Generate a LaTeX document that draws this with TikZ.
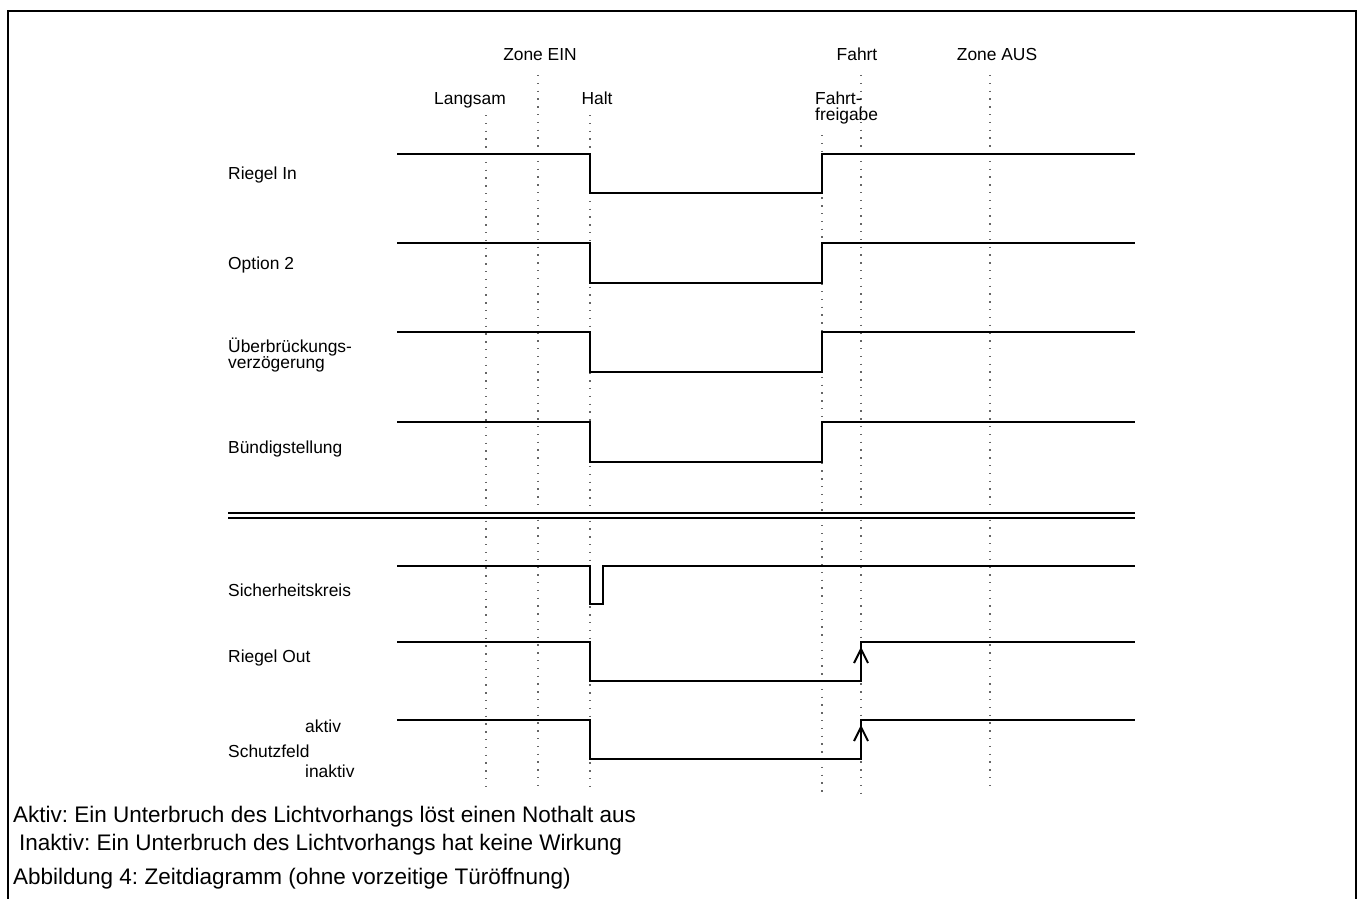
\documentclass[tikz,border=0pt]{standalone}
\usepackage{fontspec}
\setmainfont{Liberation Sans}
\frenchspacing
\begin{document}
\begin{tikzpicture}[x=1pt,y=-1pt,
  lab/.style={font=\fontsize{17.4}{17.4}\selectfont, inner sep=0pt},
  note/.style={font=\fontsize{22.5}{22.5}\selectfont, inner sep=0pt, anchor=base west},
  sig/.style={line width=2.4pt},
  guide/.style={gray!80!black, line width=1.3pt, dash pattern=on 1.3pt off 6.5pt},
  frame/.style={line width=2.5pt}]
\useasboundingbox (0,0) rectangle (1363,899);
% frame
\draw[frame] (8,899) -- (8,11) -- (1356,11) -- (1356,899);
% guide lines
\draw[guide] (486,115) -- (486,790);
\draw[guide] (538,75) -- (538,790);
\draw[guide] (590,115) -- (590,790);
\draw[guide] (822,135) -- (822,795);
\draw[guide] (861,75) -- (861,795);
\draw[guide] (990,75) -- (990,790);
% top labels
\node[lab, anchor=base] (zein) at (540,61) {Zone EIN};
\node[lab, anchor=base] (fahrt) at (857,61) {Fahrt};
\node[lab, anchor=base] (zaus) at (997,61) {Zone AUS};
\node[lab, anchor=base] (langsam) at (470,104) {Langsam};
\node[lab, anchor=base] (halt) at (597,104) {Halt};
\node[lab, anchor=base west] (ff1) at (815,104) {Fahrt-};
\node[lab, anchor=base west] (ff2) at (815,121) {freigabe};
% row labels
\node[lab, anchor=base west] (l1) at (228,179) {Riegel In};
\node[lab, anchor=base west] (l2) at (228,269) {Option 2};
\node[lab, anchor=base west] (l3a) at (228,352) {Überbrückungs-};
\node[lab, anchor=base west] (l3b) at (228,368) {verzögerung};
\node[lab, anchor=base west] (l4) at (228,453) {Bündigstellung};
\node[lab, anchor=base west] (l5) at (228,596) {Sicherheitskreis};
\node[lab, anchor=base west] (l6) at (228,662) {Riegel Out};
\node[lab, anchor=base west] (l7) at (228,757) {Schutzfeld};
\node[lab, anchor=base west] (akt) at (305,732) {aktiv};
\node[lab, anchor=base west] (inakt) at (305,777) {inaktiv};
% signals
\draw[sig] (397,154) -- (590,154) -- (590,193) -- (822,193) -- (822,154) -- (1135,154);
\draw[sig] (397,243) -- (590,243) -- (590,283) -- (822,283) -- (822,243) -- (1135,243);
\draw[sig] (397,332) -- (590,332) -- (590,372) -- (822,372) -- (822,332) -- (1135,332);
\draw[sig] (397,422) -- (590,422) -- (590,462) -- (822,462) -- (822,422) -- (1135,422);
% separator
\draw[line width=2pt] (228,513) -- (1135,513);
\draw[line width=2pt] (228,518) -- (1135,518);
% Sicherheitskreis
\draw[sig] (397,566) -- (590,566) -- (590,604) -- (603,604) -- (603,566) -- (1135,566);
% Riegel Out
\draw[sig] (397,642) -- (590,642) -- (590,681) -- (861,681) -- (861,642) -- (1135,642);
\draw[line width=2pt] (854,663) -- (861,649) -- (868,663);
% Schutzfeld
\draw[sig] (397,720) -- (590,720) -- (590,759) -- (861,759) -- (861,720) -- (1135,720);
\draw[line width=2pt] (854,741) -- (861,727) -- (868,741);
% notes
\node[note] (n1) at (13,822) {Aktiv: Ein Unterbruch des Lichtvorhangs löst einen Nothalt aus};
\node[note] (n2) at (19,850) {Inaktiv: Ein Unterbruch des Lichtvorhangs hat keine Wirkung};
\node[note] (n3) at (13,884) {Abbildung 4: Zeitdiagramm (ohne vorzeitige Türöffnung)};
\end{tikzpicture}
\end{document}
